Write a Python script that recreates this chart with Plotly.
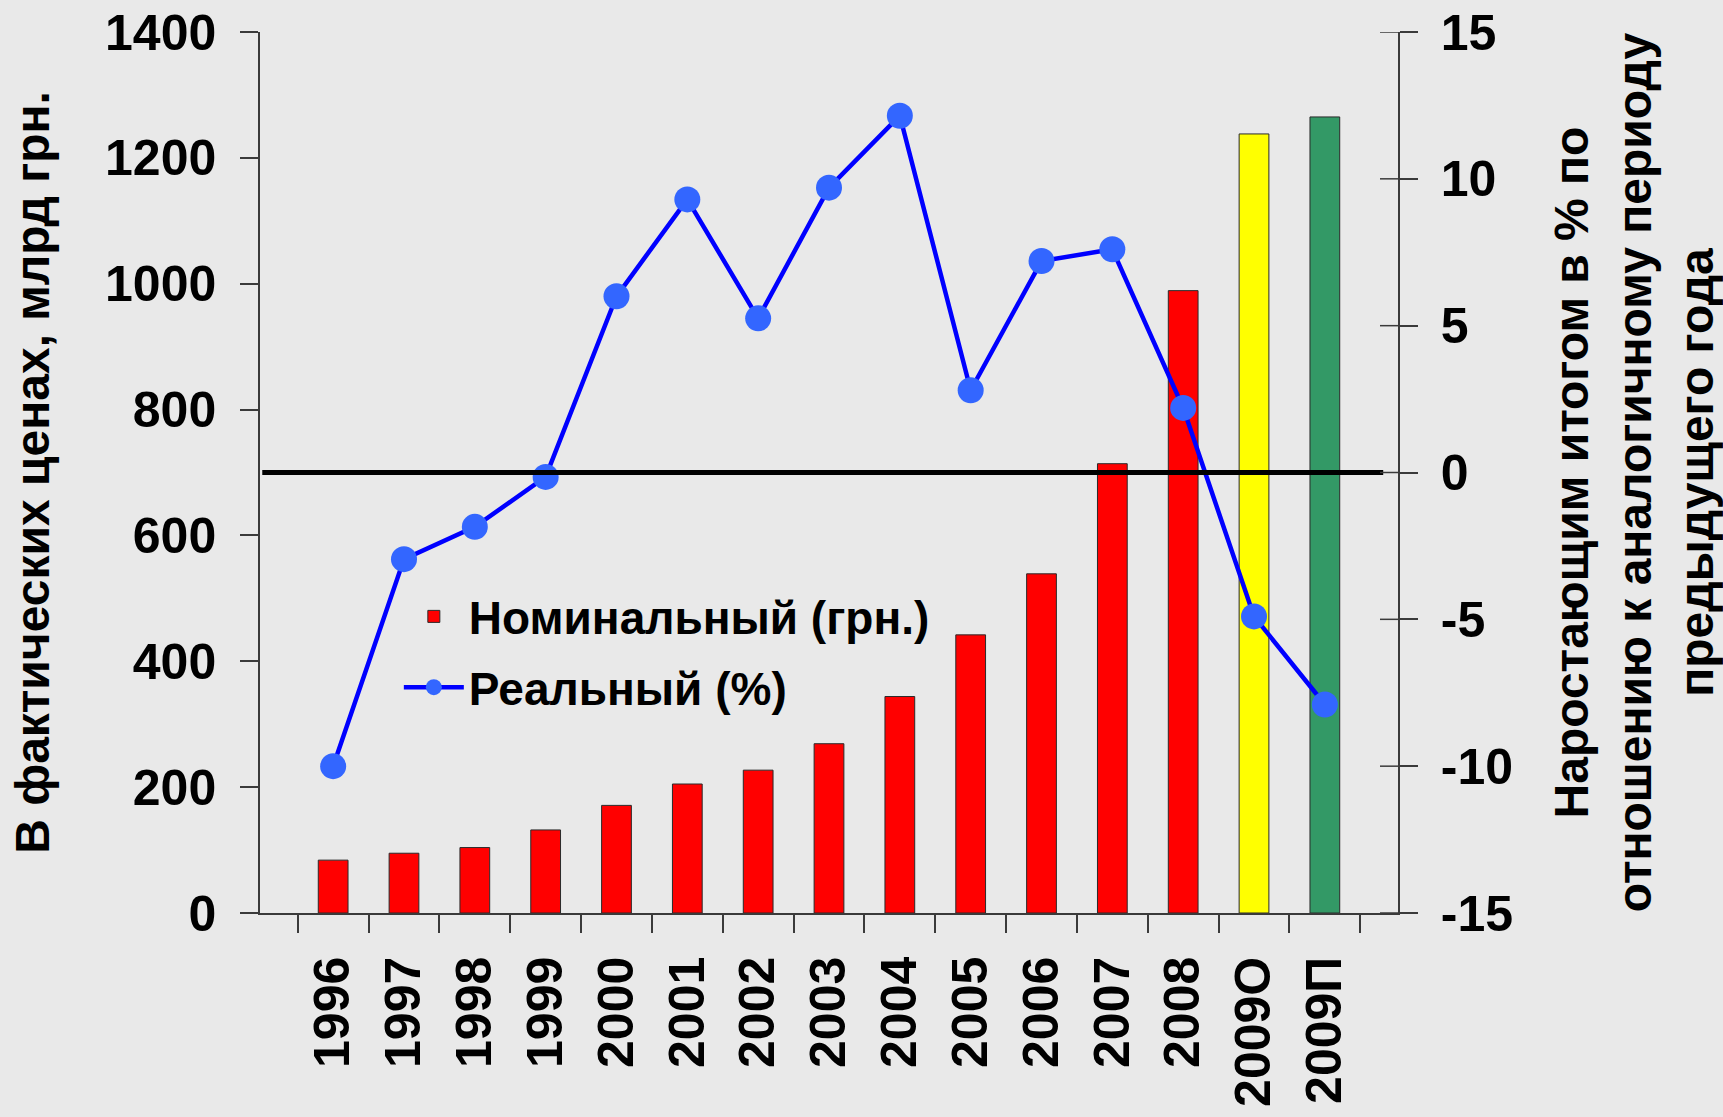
import plotly.graph_objects as go

# ---- data ----
categories = ["1996", "1997", "1998", "1999", "2000", "2001", "2002", "2003",
              "2004", "2005", "2006", "2007", "2008", "2009О", "2009П"]
nominal = [84, 95, 104, 132, 171, 205, 227, 269, 344, 442, 539, 714, 989, 1238, 1265]
real_pct = [-10.0, -2.95, -1.85, -0.15, 6.0, 9.3, 5.25, 9.7, 12.15, 2.8, 7.2, 7.6, 2.2, -4.9, -7.9]
y2_ticks = [-15, -10, -5, 0, 5, 10, 15]
y2_ticktext = [str(v) for v in y2_ticks]

series_nominal = "Номинальный (грн.)"
series_real = "Реальный (%)"
left_title = "В фактических ценах, млрд грн."
right_title = "Наростающим итогом в % по<br>отношению к аналогичному периоду<br>предыдущего года"

# ---- styles ----
bar_colors = ["#FF0000"] * 13 + ["#FFFF00", "#339966"]
FONT = "Liberation Sans, Arial, sans-serif"
AXIS_COLOR = "#3a3a3a"
BG = "#e9e9e9"

fig = go.Figure()
fig.add_trace(go.Bar(
    x=categories, y=nominal, name=series_nominal, yaxis="y", legendgroup="a",
    marker=dict(color=bar_colors, line=dict(color="#2a2a2a", width=1)),
    width=0.42,
))
fig.add_trace(go.Scatter(
    x=categories, y=real_pct, name=series_real, yaxis="y2", legendgroup="b",
    mode="lines+markers",
    line=dict(color="#0000FF", width=4.5),
    marker=dict(color="#3366FF", size=26),
))

shapes = [dict(type="line", xref="paper", yref="y2", x0=0.002, x1=0.987, y0=0, y1=0,
               line=dict(color="black", width=5), layer="above")]
# inner halves of the crossing ticks on the right axis
for v in y2_ticks:
    shapes.append(dict(type="line", xref="paper", yref="y2", x0=1 - 18 / 1138, x1=1,
                       y0=v, y1=v, line=dict(color=AXIS_COLOR, width=1.5), layer="above"))

tick_font = dict(family=FONT, size=50, color="black", weight="bold")
title_font = dict(family=FONT, size=48, color="black", weight="bold")

fig.update_layout(
    width=1723, height=1117,
    margin=dict(l=260, r=325, t=32, b=204, autoexpand=False),
    paper_bgcolor=BG, plot_bgcolor=BG,
    font=dict(family=FONT, color="black"),
    showlegend=True,
    legend=dict(
        x=0.122, y=0.378, xanchor="left", yanchor="top",
        bgcolor="rgba(0,0,0,0)", borderwidth=0,
        font=dict(family=FONT, size=46, color="black", weight="bold"),
        itemwidth=60, tracegroupgap=8, traceorder="grouped",
    ),
    xaxis=dict(
        type="category", tickangle=-90, tickfont=tick_font,
        ticks="outside", ticklen=18, tickwidth=1.5, tickcolor=AXIS_COLOR,
        tickson="boundaries", showline=True, linecolor=AXIS_COLOR, linewidth=1.5,
        showgrid=False, zeroline=False, ticklabelstandoff=22, automargin=False,
    ),
    yaxis=dict(
        range=[0, 1400], dtick=200, tickfont=tick_font,
        ticks="outside", ticklen=18, tickwidth=1.5, tickcolor=AXIS_COLOR,
        showline=True, linecolor=AXIS_COLOR, linewidth=1.5,
        showgrid=False, zeroline=False, ticklabelstandoff=14, automargin=False,
        title=dict(text=left_title, font=title_font, standoff=40),
    ),
    yaxis2=dict(
        range=[-15, 15], tickvals=y2_ticks, ticktext=y2_ticktext, tickfont=tick_font,
        overlaying="y", side="right",
        ticks="outside", ticklen=18, tickwidth=1.5, tickcolor=AXIS_COLOR,
        showline=True, linecolor=AXIS_COLOR, linewidth=1.5,
        showgrid=False, zeroline=False, ticklabelstandoff=13, automargin=False,
        title=dict(text=right_title, font=title_font, standoff=48),
    ),
    shapes=shapes,
    hovermode=False,
)

fig.write_html(
    "out.html",
    config={"displayModeBar": False},
    post_script="document.body.style.margin='0';document.body.style.background='%s';" % BG,
)
